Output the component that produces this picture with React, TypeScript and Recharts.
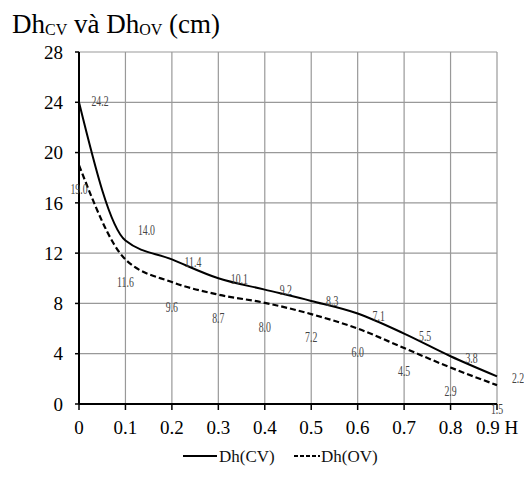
import React from 'react';
import { LineChart, Line, XAxis, YAxis, CartesianGrid, Legend, LabelList } from 'recharts';

const hValues = [0, 0.1, 0.2, 0.3, 0.4, 0.5, 0.6, 0.7, 0.8, 0.9];
// drawn curves
const cvCurve = [24.0, 13.0, 11.5, 10.0, 9.1, 8.2, 7.2, 5.6, 3.8, 2.2];
const ovCurve = [19.0, 11.5, 9.7, 8.7, 8.05, 7.15, 6.0, 4.45, 2.9, 1.5];
// data labels shown on the chart
const cvLabels = [24.2, 14.0, 11.4, 10.1, 9.2, 8.3, 7.1, 5.5, 3.8, 2.2];
const ovLabels = [19.0, 11.6, 9.6, 8.7, 8.0, 7.2, 6.0, 4.5, 2.9, 1.5];
const yTicks = [0, 4, 8, 12, 16, 20, 24, 28];
const seriesNames = ['Dh(CV)', 'Dh(OV)'];

const data = hValues.map((h, i) => ({
  h,
  cv: cvCurve[i],
  ov: ovCurve[i],
  cvL: cvLabels[i],
  ovL: ovLabels[i],
}));

const FONT = "'Liberation Serif', 'Times New Roman', 'DejaVu Serif', serif";

const CvLabel = (p: any) => (
  <text
    transform={`translate(${p.x + 21},${p.y + 2}) scale(0.7,1)`}
    textAnchor="middle"
    dominantBaseline="central"
    fontSize={14}
    fill="#444"
    style={{ fontFamily: FONT }}
  >
    {Number(p.value).toFixed(1)}
  </text>
);

const OvLabel = (p: any) => (
  <text
    transform={`translate(${p.x},${p.y + 24}) scale(0.7,1)`}
    textAnchor="middle"
    dominantBaseline="central"
    fontSize={14}
    fill="#444"
    style={{ fontFamily: FONT }}
  >
    {Number(p.value).toFixed(1)}
  </text>
);

const LegendContent = () => (
  <svg width={524} height={30} style={{ overflow: 'visible', fontFamily: FONT }}>
    <line x1={183} x2={217} y1={12} y2={12} stroke="#000" strokeWidth={2} />
    <text x={219} y={12} dominantBaseline="central" fontSize={17} fill="#111">
      {seriesNames[0]}
    </text>
    <line x1={294} x2={320} y1={12} y2={12} stroke="#000" strokeWidth={2} strokeDasharray="4 2" />
    <text x={321} y={12} dominantBaseline="central" fontSize={17} fill="#111">
      {seriesNames[1]}
    </text>
  </svg>
);

export default function App() {
  return (
    <div
      style={{
        position: 'absolute',
        left: 0,
        top: 0,
        width: 524,
        height: 482,
        background: '#fff',
        fontFamily: FONT,
      }}
    >
      <LineChart
        width={524}
        height={482}
        data={data}
        margin={{ top: 52, right: 27, bottom: 8, left: 0 }}
        style={{ fontFamily: FONT }}
      >
        <CartesianGrid stroke="#999" strokeWidth={1.2} />
        <XAxis
          dataKey="h"
          type="number"
          domain={[0, 0.9]}
          ticks={hValues}
          interval={0}
          height={40}
          tickSize={6}
          tickMargin={11}
          tickFormatter={(v: number) => (v === 0.9 ? '0.9 H' : String(v))}
          axisLine={{ stroke: '#000', strokeWidth: 2 }}
          tickLine={{ stroke: '#000', strokeWidth: 1.5 }}
          tick={{ fontSize: 19, fill: '#000', style: { fontFamily: FONT } }}
        />
        <YAxis
          type="number"
          domain={[0, 28]}
          ticks={yTicks}
          interval={0}
          width={79}
          tickSize={4}
          tickMargin={12}
          axisLine={{ stroke: '#000', strokeWidth: 2 }}
          tickLine={{ stroke: '#000', strokeWidth: 1.5 }}
          tick={{ fontSize: 19, fill: '#000', style: { fontFamily: FONT } }}
        />
        <Legend verticalAlign="bottom" height={30} wrapperStyle={{ left: 0, width: 524 }} content={LegendContent} />
        <Line
          type="monotone"
          dataKey="cv"
          name={seriesNames[0]}
          stroke="#000"
          strokeWidth={2}
          dot={false}
          activeDot={false}
          isAnimationActive={false}
        />
        <Line
          type="monotone"
          dataKey="ov"
          name={seriesNames[1]}
          stroke="#000"
          strokeWidth={2.2}
          strokeDasharray="6 3"
          dot={false}
          activeDot={false}
          isAnimationActive={false}
        />
        <Line
          dataKey="cvL"
          stroke="none"
          dot={false}
          activeDot={false}
          legendType="none"
          isAnimationActive={false}
        >
          <LabelList dataKey="cvL" content={CvLabel} />
        </Line>
        <Line
          dataKey="ovL"
          stroke="none"
          dot={false}
          activeDot={false}
          legendType="none"
          isAnimationActive={false}
        >
          <LabelList dataKey="ovL" content={OvLabel} />
        </Line>
      </LineChart>
      <svg
        width={524}
        height={50}
        style={{ position: 'absolute', left: 0, top: 0, pointerEvents: 'none', fontFamily: FONT }}
      >
        <text x={12} y={33} fontSize={27} fill="#000">
          <tspan>Dh</tspan>
          <tspan fontSize={16} dy={2}>CV</tspan>
          <tspan dy={-2}> và Dh</tspan>
          <tspan fontSize={16} dy={2}>OV</tspan>
          <tspan dy={-2}> (cm)</tspan>
        </text>
      </svg>
    </div>
  );
}
